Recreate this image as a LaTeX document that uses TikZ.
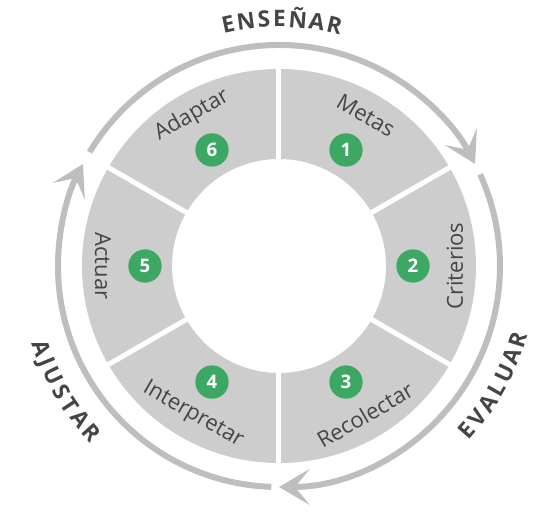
\documentclass[tikz,border=0pt]{standalone}
\usepackage{fontspec}
\setmainfont{Open Sans}
\usetikzlibrary{arrows.meta}
\definecolor{segGray}{HTML}{CDCDCD}
\definecolor{arcGray}{HTML}{BEBEBE}
\definecolor{txtGray}{HTML}{454545}
\definecolor{numGreen}{HTML}{3DA863}
\tikzset{
  seglabel/.style={text=txtGray, font=\fontsize{16.5}{19}\selectfont, inner sep=0pt},
  numdot/.style={circle, fill=numGreen, text=white, minimum size=25pt, inner sep=0pt,
    font=\fontsize{14}{16}\selectfont\bfseries},
  headletter/.style={text=txtGray, font=\fontsize{17}{20}\selectfont\bfseries,
    inner sep=0pt, anchor=base},
  cyclearrow/.style={arcGray, line width=4.5pt,
    -{Stealth[length=23pt, width=27pt, inset=11pt]}},
}
\begin{document}
\begin{tikzpicture}[x=0.75pt, y=0.75pt]
                \useasboundingbox (-279,-254) rectangle (271,266);
                % 圆环
                \fill[segGray, even odd rule] (0,0) circle (197) (0,0) circle (107);
                % 分隔线
                \foreach \a in {90,30,-30,-90,-150,150}
                  \draw[white, line width=3.75pt] (\a:100) -- (\a:205);
                % 外圈箭头
                \draw[cyclearrow] (149:221) arc[start angle=149, end angle=27.5, radius=221];
                \draw[cyclearrow] (24.5:221) arc[start angle=24.5, end angle=-90, radius=221];
                \draw[cyclearrow] (-92:221) arc[start angle=-92, end angle=-207.5, radius=221];
                % 各段名称
                \node[seglabel, rotate=-30] (lab1) at (60:174) {Metas};
                \node[seglabel, rotate=90] (lab2) at (0:176) {Criterios};
                \node[seglabel, rotate=30] (lab3) at (-60:172) {Recolectar};
                \node[seglabel, rotate=-30] (lab4) at (-120:172) {Interpretar};
                \node[seglabel, rotate=-90] (lab5) at (180:176) {Actuar};
                \node[seglabel, rotate=30] (lab6) at (120:174) {Adaptar};
                % 编号
                \foreach \i/\a in {1/60, 2/0, 3/-60, 4/-120, 5/180, 6/120}
                  \node[numdot] (n\i) at (\a:134) {\i};
                % 外圈文字
                \foreach \ch/\a [count=\i] in {E/101.9, N/97.7, S/93.5, E/89.9, Ñ/85.6, A/81.2, R/77.0}
                  \node[headletter, rotate=\a-90] (ens\i) at (\a:239) {\ch};
                \foreach \ch/\a [count=\i] in {E/-41.2, V/-37.4, A/-33.4, L/-29.6, U/-25.5, A/-21.2, R/-17.1}
                  \node[headletter, rotate=\a+90] (eva\i) at (\a:258) {\ch};
                \foreach \ch/\a [count=\i] in {A/-160.8, J/-157.5, U/-154.1, S/-149.9, T/-146.3, A/-142.4, R/-138.3}
                  \node[headletter, rotate=\a+90] (aju\i) at (\a:259) {\ch};
\end{tikzpicture}
\end{document}
